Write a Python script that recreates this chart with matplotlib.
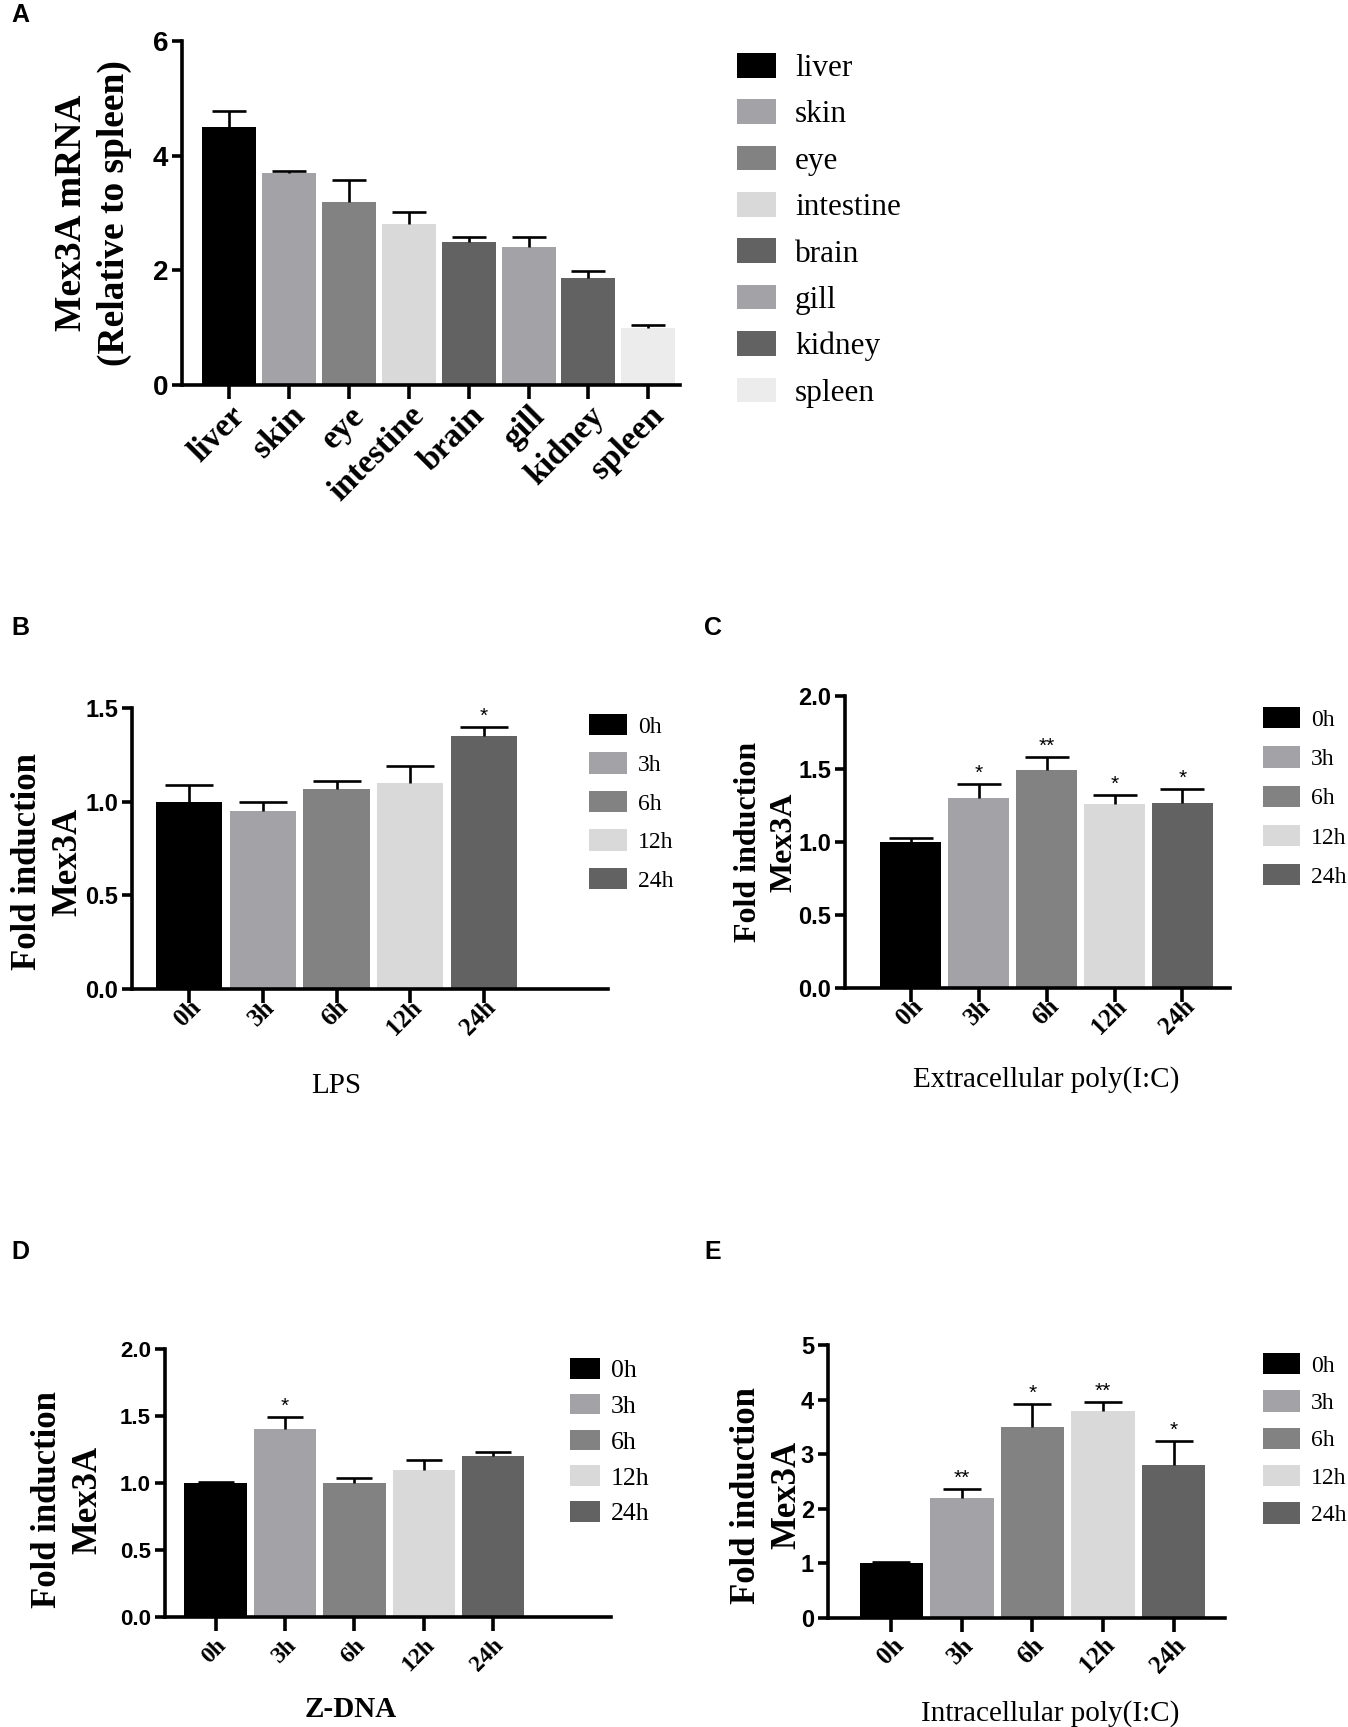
import numpy as np
import matplotlib
matplotlib.use("Agg")
import matplotlib.pyplot as plt

SERIF = ['Liberation Serif', 'DejaVu Serif']
NARROW = ['Liberation Sans Narrow', 'Liberation Sans', 'DejaVu Sans']
SANS = ['Liberation Sans', 'DejaVu Sans']

# panel A: tissue distribution
tissues = ['liver', 'skin', 'eye', 'intestine', 'brain', 'gill', 'kidney', 'spleen']
tissue_mean = [4.5, 3.7, 3.2, 2.8, 2.5, 2.4, 1.87, 1.0]
tissue_err = [0.28, 0.04, 0.38, 0.22, 0.08, 0.18, 0.12, 0.04]
tissue_colors = ['#000000', '#a2a2a7', '#828282', '#d9d9d9',
                 '#626262', '#a2a2a7', '#626262', '#ececec']

# panels B-E: time course
hours = ['0h', '3h', '6h', '12h', '24h']
hour_colors = ['#000000', '#a2a2a7', '#828282', '#d9d9d9', '#626262']

lps_mean = [1.0, 0.95, 1.07, 1.10, 1.35]
lps_err = [0.09, 0.05, 0.04, 0.09, 0.05]
lps_sig = ['', '', '', '', '*']

expic_mean = [1.0, 1.30, 1.49, 1.26, 1.27]
expic_err = [0.03, 0.10, 0.09, 0.06, 0.09]
expic_sig = ['', '*', '**', '*', '*']

zdna_mean = [1.0, 1.40, 1.0, 1.10, 1.20]
zdna_err = [0.005, 0.09, 0.04, 0.07, 0.03]
zdna_sig = ['', '*', '', '', '']

inpic_mean = [1.0, 2.2, 3.5, 3.8, 2.8]
inpic_err = [0.03, 0.16, 0.42, 0.15, 0.45]
inpic_sig = ['', '**', '*', '**', '*']

W, H = 1348, 1727
fig = plt.figure(figsize=(W / 100, H / 100), dpi=100)


def px_axes(left, top, right, bottom):
    return fig.add_axes([left / W, 1 - bottom / H, (right - left) / W, (bottom - top) / H])


def bar_panel(ax, labels, means, errs, colors, sig, ylim, yticks, yfmt, xlim,
              ylabel, ylabel_at, ylab_fs, xlabel, xlabel_bold, xlabel_at,
              tick_fs, xtick_fs, xtick_pad, cap,
              leg_anchor, leg_fs, leg_box, leg_step, star_fs=15):
    x = np.arange(len(labels))
    bars = ax.bar(x, means, width=0.9, color=colors, zorder=2)
    # GraphPad style: only the upper half of the error bar
    eb = ax.errorbar(x, means, yerr=[np.zeros(len(x)), errs], fmt='none',
                     ecolor='black', elinewidth=1.9, capsize=cap, capthick=1.9, zorder=3)
    eb[1][0].set_visible(False)
    top = ylim[1]
    for xi, m, e, s in zip(x, means, errs, sig):
        if s:
            ax.text(xi, m + e + top * 0.004, s, ha='center', va='bottom',
                    fontsize=star_fs, family=SANS)
    ax.set_xlim(*xlim)
    ax.set_ylim(*ylim)
    ax.set_yticks(yticks)
    ax.set_yticklabels([yfmt.format(v) for v in yticks], family=NARROW,
                       fontweight='bold', fontsize=tick_fs)
    ax.set_xticks(x)
    ax.set_xticklabels(labels, rotation=45, ha='right', rotation_mode='anchor',
                       family=SERIF, fontweight='bold', fontsize=xtick_fs)
    for side in ['top', 'right']:
        ax.spines[side].set_visible(False)
    for side in ['left', 'bottom']:
        ax.spines[side].set_linewidth(2.6)
    ax.tick_params(axis='y', length=7, width=2.6, pad=3)
    ax.tick_params(axis='x', length=10, width=2.6, pad=xtick_pad)
    ax.set_ylabel(ylabel, family=SERIF, fontweight='bold', fontsize=ylab_fs,
                  linespacing=1.3)
    ax.yaxis.set_label_coords(*ylabel_at)
    if xlabel:
        ax.set_xlabel(xlabel, family=SERIF, fontsize=21,
                      fontweight='bold' if xlabel_bold else 'normal')
        ax.xaxis.set_label_coords((xlabel_at[0] - xlim[0]) / (xlim[1] - xlim[0]),
                                  xlabel_at[1])
    fs_px = leg_fs * 100 / 72
    fig.legend(bars.patches, labels, loc='upper left',
               bbox_to_anchor=(leg_anchor[0] / W, 1 - leg_anchor[1] / H),
               frameon=False, borderpad=0, borderaxespad=0,
               handlelength=leg_box[0] / fs_px, handleheight=leg_box[1] / fs_px,
               handletextpad=leg_box[2] / fs_px,
               labelspacing=(leg_step - fs_px) / fs_px,
               prop={'family': SERIF, 'size': leg_fs})


axA = px_axes(182, 41, 680, 385)
bar_panel(axA, tissues, tissue_mean, tissue_err, tissue_colors, [''] * 8,
          (0, 6), [0, 2, 4, 6], '{:g}', (-0.79, 7.53),
          'Mex3A mRNA\n(Relative to spleen)', (-0.10, 0.5), 27, None, False, None,
          20, 24, 1, 12, (737, 53), 22.5, (39, 26, 19), 47.5)

axB = px_axes(132, 708, 608, 989)
bar_panel(axB, hours, lps_mean, lps_err, hour_colors, lps_sig,
          (0, 1.5), [0, 0.5, 1.0, 1.5], '{:.1f}', (-0.78, 5.69),
          'Fold induction\nMex3A', (-0.10, 0.453), 25, 'LPS', False, (2, -0.30),
          17, 18, -5, 17, (589, 714), 17, (38, 24, 11), 38.3)

axC = px_axes(845, 696, 1230, 988)
bar_panel(axC, hours, expic_mean, expic_err, hour_colors, expic_sig,
          (0, 2.0), [0, 0.5, 1.0, 1.5, 2.0], '{:.1f}', (-0.97, 4.7),
          'Fold induction\nMex3A', (-0.12, 0.5), 23, 'Extracellular poly(I:C)', False, (2, -0.266),
          17, 18, -5, 16, (1263, 707), 17, (37, 24, 11), 39.1)

axD = px_axes(165, 1349, 611, 1617)
bar_panel(axD, hours, zdna_mean, zdna_err, hour_colors, zdna_sig,
          (0, 2.0), [0, 0.5, 1.0, 1.5, 2.0], '{:.1f}', (-0.73, 5.7),
          'Fold induction\nMex3A', (-0.135, 0.438), 25, 'Z-DNA', True, (1.95, -0.293),
          16, 17, 3, 13, (570, 1358), 18.5, (30, 22, 11), 37.3)

axE = px_axes(828, 1345, 1225, 1618)
bar_panel(axE, hours, inpic_mean, inpic_err, hour_colors, inpic_sig,
          (0, 5), [0, 1, 2, 3, 4, 5], '{:g}', (-0.9, 4.73),
          'Fold induction\nMex3A', (-0.061, 0.45), 25, 'Intracellular poly(I:C)', False, (2.25, -0.3),
          17, 18, 1, 14, (1263, 1353), 17, (37, 24, 11), 37.2)

for letter, (lx, ly) in zip('ABCDE', [(11, 15), (11, 628), (704, 628), (11, 1252), (704, 1252)]):
    fig.text(lx / W, 1 - ly / H, letter, family=SANS, fontweight='bold',
             fontsize=18, ha='left', va='center')

fig.savefig('out.png', dpi=100)
